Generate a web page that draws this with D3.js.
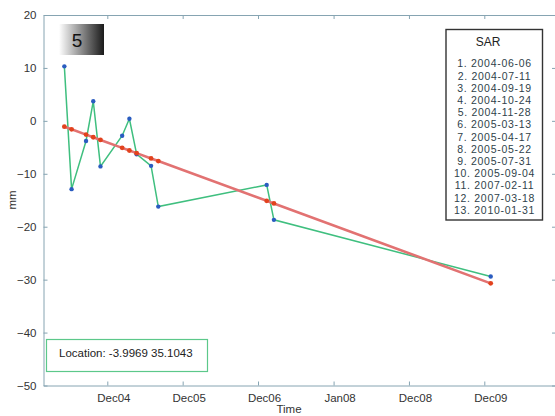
<!DOCTYPE html>
<html><head><meta charset="utf-8">
<script src="https://cdn.jsdelivr.net/npm/d3@7"></script>
<style>body{margin:0;background:#fff}svg{display:block}</style>
</head><body><svg id="c" width="555" height="416"></svg>
<script>
// ---- data ----
const sarDates = ["2004-06-06","2004-07-11","2004-09-19","2004-10-24","2004-11-28","2005-03-13","2005-04-17","2005-05-22","2005-07-31","2005-09-04","2007-02-11","2007-03-18","2010-01-31"];
const observed = [10.3,-12.9,-3.8,3.7,-8.6,-2.8,0.4,-6.3,-8.5,-16.2,-12.1,-18.7,-29.4];
const fitted = [-1.1,-1.6,-2.6,-3.1,-3.6,-5.1,-5.6,-6.1,-7.1,-7.6,-15.1,-15.6,-30.7];
const yTicks = [20,10,0,-10,-20,-30,-40,-50];
const xTickDates = ["2004-12-31","2005-12-31","2006-12-31","2008-01-01","2008-12-31","2009-12-31"];
const xTickLabels = ["Dec04","Dec05","Dec06","Jan08","Dec08","Dec09"];
const badgeLabel = "5";
const legendTitle = "SAR";
const locationText = "Location: -3.9969 35.1043";

// ---- layout ----
const parse = d3.timeParse("%Y-%m-%d");
const dates = sarDates.map(parse);
const tickDates = xTickDates.map(parse);
const L = 43.5, R = 557, T = 15, B = 385.5;
const font = "'Liberation Sans', Arial, sans-serif";
const axisColor = "#86a4b2";
const textColor = "#333";

const x = d3.scaleTime().domain([tickDates[0], tickDates[tickDates.length-1]]).range([107.3, 484.3]);
x.domain([x.invert(L), x.invert(R)]).range([L, R]);
const y = d3.scaleLinear().domain([-50, 20]).range([B, T]);

const svg = d3.select("#c");
const defs = svg.append("defs");
const grad = defs.append("linearGradient").attr("id","g5");
grad.append("stop").attr("offset","0%").attr("stop-color","#ffffff");
grad.append("stop").attr("offset","100%").attr("stop-color","#1a1a1a");

// axes
const gB = svg.append("g").attr("transform",`translate(0,${B})`)
  .call(d3.axisBottom(x).tickValues(tickDates).tickSize(-4).tickSizeOuter(0).tickPadding(8)
    .tickFormat((d,i)=>xTickLabels[i]));
const gT = svg.append("g").attr("transform",`translate(0,${T})`)
  .call(d3.axisTop(x).tickValues(tickDates).tickSize(-4).tickSizeOuter(0).tickFormat(""));
const gL = svg.append("g").attr("transform",`translate(${L},0)`)
  .call(d3.axisLeft(y).tickValues(yTicks).tickSize(-4).tickSizeOuter(0).tickPadding(7));
const gR = svg.append("g").attr("transform",`translate(${R-1},0)`)
  .call(d3.axisRight(y).tickValues(yTicks).tickSize(-4).tickSizeOuter(0).tickFormat(""));
[gB,gT,gL,gR].forEach(g=>{
  g.select(".domain").attr("stroke",axisColor);
  g.selectAll(".tick line").attr("stroke",axisColor);
  g.selectAll("text").attr("fill",textColor).style("font-family",font).style("font-size","11.5px");
});
gB.selectAll("text").attr("dx",6);

// axis labels
svg.append("text").attr("x",289).attr("y",413).attr("text-anchor","middle")
  .style("font-family",font).style("font-size","11.5px").attr("fill",textColor).text("Time");
svg.append("text").attr("transform","translate(16,200) rotate(-90)").attr("text-anchor","middle")
  .style("font-family",font).style("font-size","11.5px").attr("fill",textColor).text("mm");

// lines
const line = (vals)=>d3.line().x((d,i)=>x(dates[i])).y(d=>y(d))(vals);
svg.append("path").attr("d",line(observed)).attr("fill","none").attr("stroke","#3fbf7f").attr("stroke-width",1.5);
svg.append("g").selectAll("circle").data(observed).join("circle")
  .attr("cx",(d,i)=>x(dates[i])).attr("cy",d=>y(d)).attr("r",2.2).attr("fill","#2a5cc0");
svg.append("path").attr("d",line(fitted)).attr("fill","none").attr("stroke","#e27272").attr("stroke-width",2.6);
svg.append("g").selectAll("circle").data(fitted).join("circle")
  .attr("cx",(d,i)=>x(dates[i])).attr("cy",d=>y(d)).attr("r",2.4).attr("fill","#e2421e");

// badge
svg.append("rect").attr("x",59).attr("y",24).attr("width",45).attr("height",31).attr("fill","url(#g5)");
svg.append("text").attr("x",77).attr("y",47).attr("text-anchor","middle")
  .style("font-family",font).style("font-size","19px").attr("fill","#111").text(badgeLabel);

// legend
svg.append("rect").attr("x",446).attr("y",29.5).attr("width",96.5).attr("height",190.5)
  .attr("fill","#fff").attr("stroke","#333").attr("stroke-width",1.4);
svg.append("text").attr("x",488).attr("y",46).attr("text-anchor","middle")
  .style("font-family",font).style("font-size","12px").attr("fill","#222").text(legendTitle);
svg.append("g").selectAll("text").data(sarDates).join("text")
  .attr("x",494.5).attr("y",(d,i)=>67.3+i*12.2).attr("text-anchor","middle")
  .style("font-family",font).style("font-size","10.5px").style("letter-spacing","0.7px").attr("fill","#2f3f4a")
  .text((d,i)=>`${i+1}. ${d}`);

// location box
svg.append("rect").attr("x",46.5).attr("y",339.5).attr("width",161).attr("height",32)
  .attr("fill","#fff").attr("stroke","#5cc88a").attr("stroke-width",1.2);
svg.append("text").attr("x",59).attr("y",357)
  .style("font-family",font).style("font-size","11.5px").attr("fill","#222").text(locationText);
</script></body></html>
